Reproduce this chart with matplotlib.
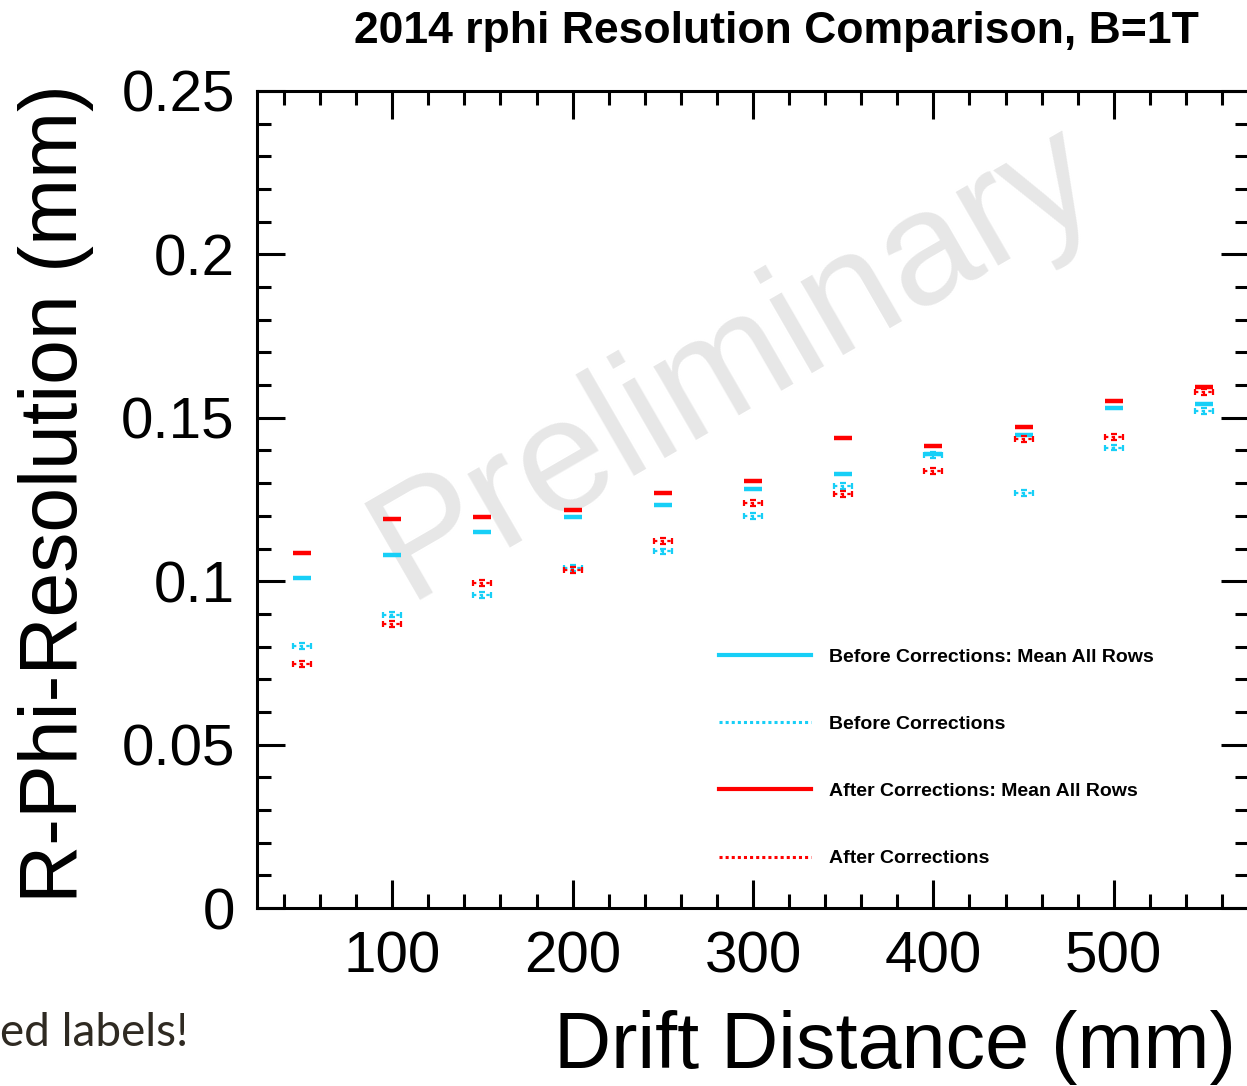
import matplotlib
matplotlib.use("Agg")
import matplotlib.pyplot as plt
from matplotlib.lines import Line2D
from matplotlib.ticker import MultipleLocator, FixedLocator
import numpy as np

plt.rcParams['font.family'] = ['Liberation Sans', 'DejaVu Sans']

drift = [50, 100, 150, 200, 250, 300, 350, 400, 450, 500, 550]
before_mean = [0.1010, 0.1081, 0.1151, 0.1196, 0.1232, 0.1282, 0.1327, 0.1390, 0.1447, 0.1530, 0.1543]
before_rows = [0.0801, 0.0898, 0.0957, 0.1040, 0.1091, 0.1199, 0.1292, 0.1385, 0.1271, 0.1409, 0.1521]
after_mean = [0.1085, 0.1189, 0.1195, 0.1217, 0.1271, 0.1306, 0.1437, 0.1413, 0.1473, 0.1550, 0.1595]
after_rows = [0.0747, 0.0870, 0.0995, 0.1035, 0.1122, 0.1238, 0.1266, 0.1337, 0.1434, 0.1440, 0.1579]

labels = ["Before Corrections: Mean All Rows", "Before Corrections",
          "After Corrections: Mean All Rows", "After Corrections"]
title = "2014 rphi Resolution Comparison, B=1T"
xlabel = "Drift Distance (mm)"
ylabel = "R-Phi-Resolution (mm)"

CYAN = "#17cff7"
RED = "#ff0000"

W, H = 1247, 1086
fig = plt.figure(figsize=(W / 100, H / 100), dpi=100)
ax = fig.add_axes([257 / W, 1 - 908 / H, (1249 - 257) / W, (908 - 91) / H])
ax.set_xlim(25, 575)
ax.set_ylim(0, 0.25)

# watermark (behind data)
ax.text(735 / W, 1 - 362 / H, "Preliminary", fontsize=116, color="#e7e7e7",
        rotation=30, ha="center", va="center", zorder=0,
        transform=fig.transFigure, clip_on=False)

x = np.array(drift)
half = 5.0


def dotted(y, color):
    eb = ax.errorbar(x, y, xerr=half, yerr=0.0009, fmt='none', ecolor=color,
                     elinewidth=1.6, capsize=2.5, capthick=1.6, zorder=3)
    for c in eb.lines[2]:
        c.set_linestyle((0, (1.5, 1.5)))


def solid(y, color):
    ax.hlines(y, x - half, x + half, colors=color, lw=3.2, zorder=3)


solid(before_mean, CYAN)
dotted(before_rows, CYAN)
solid(after_mean, RED)
dotted(after_rows, RED)

handles = [Line2D([], [], color=CYAN, lw=3),
           Line2D([], [], color=CYAN, lw=2.2, ls=(0, (1, 1))),
           Line2D([], [], color=RED, lw=3),
           Line2D([], [], color=RED, lw=2.2, ls=(0, (1, 1)))]
leg = ax.legend(handles, labels, loc="upper left", bbox_to_anchor=(0.466, 0.318),
                frameon=False, prop={'size': 14, 'weight': 'bold'},
                handlelength=4.7, handletextpad=0.95, labelspacing=2.55,
                borderaxespad=0, borderpad=0)

# ticks
ax.xaxis.set_major_locator(FixedLocator([100, 200, 300, 400, 500]))
ax.xaxis.set_minor_locator(MultipleLocator(20))
ax.yaxis.set_major_locator(MultipleLocator(0.05))
ax.yaxis.set_minor_locator(MultipleLocator(0.01))
ax.tick_params(which='both', direction='in', top=True, right=True, width=2.2)
ax.tick_params(which='major', length=20, labelsize=42, pad=16)
ax.tick_params(which='minor', length=10)
ax.set_yticks([0, 0.05, 0.1, 0.15, 0.2, 0.25])
ax.set_yticklabels(["0", "0.05", "0.1", "0.15", "0.2", "0.25"])
for s in ax.spines.values():
    s.set_linewidth(2.2)

fig.text(776 / W, 1 - 11 / H, title, fontsize=32, fontweight='bold',
         ha='center', va='top')
fig.text(1236 / W, 1 - 1068 / H, xlabel, fontsize=57, ha='right', va='baseline')
fig.text(56 / W, 1 - 84 / H, ylabel, fontsize=58, rotation=90,
         ha='center', va='top')
fig.text(0, 1 - 1046 / H, "ed labels!", fontsize=33, color="#2f2a22",
         family=['Lato', 'DejaVu Sans'], ha='left', va='baseline')

fig.savefig("out.png", dpi=100)
